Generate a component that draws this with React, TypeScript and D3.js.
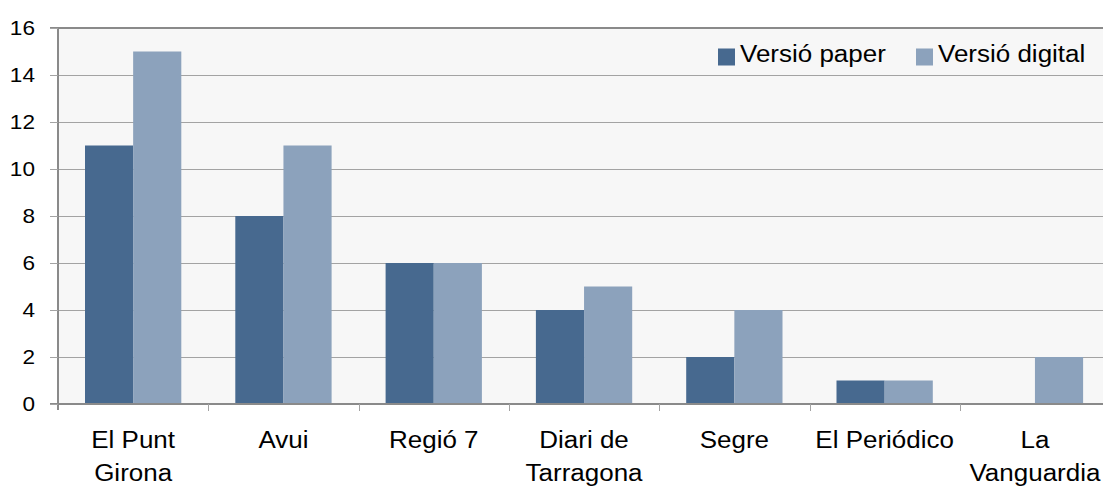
import { useEffect, useRef } from "react";
import * as d3 from "d3";

const categories = [
  ["El Punt", "Girona"],
  ["Avui"],
  ["Regió 7"],
  ["Diari de", "Tarragona"],
  ["Segre"],
  ["El Periódico"],
  ["La", "Vanguardia"],
];
const paperValues = [11, 8, 6, 4, 2, 1, 0];
const digitalValues = [15, 11, 6, 5, 4, 1, 2];
const seriesNames = ["Versió paper", "Versió digital"];
const yTicks = [0, 2, 4, 6, 8, 10, 12, 14, 16];

const W = 1103;
const H = 486;
const colors = ["#47698f", "#8ca2bc"];
const FONT = "Liberation Sans, Arial, sans-serif";
// the source picture is a little wider than tall, text too
const STRETCH = 1.13;

export default function App() {
  const svgRef = useRef<SVGSVGElement | null>(null);

  useEffect(() => {
    if (!svgRef.current) return;
    const svg = d3.select(svgRef.current);
    svg.selectAll("*").remove();

    const left = 58;
    const top = 28;
    const bottom = 404;
    const catW = 150.3;
    const right = left + catW * categories.length;

    const x = d3
      .scaleBand<number>()
      .domain(d3.range(categories.length))
      .range([left, right]);
    const y = d3.scaleLinear().domain([0, 16]).range([bottom, top]);
    const inner = d3.scaleBand<number>().domain([0, 1]).range([27, catW - 27]);

    const label = (g: any, tx: number, ty: number, txt: string, size: number, anchor: string) =>
      g
        .append("text")
        .attr("transform", `translate(${tx},${ty}) scale(${STRETCH},1)`)
        .attr("text-anchor", anchor)
        .attr("font-family", FONT)
        .attr("font-size", size)
        .attr("fill", "#000")
        .text(txt);

    svg.append("rect").attr("width", W).attr("height", H).attr("fill", "#ffffff");
    svg
      .append("rect")
      .attr("x", left)
      .attr("y", top)
      .attr("width", right - left)
      .attr("height", bottom - top)
      .attr("fill", "#f7f7f7");

    // gridlines
    svg
      .append("g")
      .selectAll("line")
      .data(yTicks.filter((t) => t > 0 && t < 16))
      .join("line")
      .attr("x1", left - 8)
      .attr("x2", right)
      .attr("y1", (d) => Math.round(y(d)) + 0.5)
      .attr("y2", (d) => Math.round(y(d)) + 0.5)
      .attr("stroke", "#a3a3a3")
      .attr("stroke-width", 1);

    svg
      .append("line")
      .attr("x1", left - 8)
      .attr("x2", right)
      .attr("y1", top)
      .attr("y2", top)
      .attr("stroke", "#8a8a8a")
      .attr("stroke-width", 2);

    // bars
    [paperValues, digitalValues].forEach((vals, si) => {
      svg
        .append("g")
        .selectAll("rect")
        .data(vals)
        .join("rect")
        .attr("x", (_d, i) => (x(i) ?? 0) + (inner(si) ?? 0))
        .attr("width", inner.bandwidth())
        .attr("y", (d) => y(d))
        .attr("height", (d) => bottom - y(d))
        .attr("fill", colors[si]);
    });

    svg
      .append("line")
      .attr("x1", left)
      .attr("x2", left)
      .attr("y1", top)
      .attr("y2", bottom + 6)
      .attr("stroke", "#8a8a8a")
      .attr("stroke-width", 2);
    svg
      .append("line")
      .attr("x1", left - 8)
      .attr("x2", right)
      .attr("y1", bottom)
      .attr("y2", bottom)
      .attr("stroke", "#8a8a8a")
      .attr("stroke-width", 2);

    // y axis ticks + labels
    const yg = svg.append("g");
    yg.selectAll("line")
      .data(yTicks)
      .join("line")
      .attr("x1", left - 8)
      .attr("x2", left)
      .attr("y1", (d) => Math.round(y(d)) + 0.5)
      .attr("y2", (d) => Math.round(y(d)) + 0.5)
      .attr("stroke", "#a3a3a3");
    yTicks.forEach((t) => label(yg, 35, y(t) + 7, String(t), 20, "end"));

    // category ticks
    svg
      .append("g")
      .selectAll("line")
      .data(d3.range(1, categories.length))
      .join("line")
      .attr("x1", (d) => Math.round(x(d) ?? 0) + 0.5)
      .attr("x2", (d) => Math.round(x(d) ?? 0) + 0.5)
      .attr("y1", bottom)
      .attr("y2", bottom + 7)
      .attr("stroke", "#a3a3a3");

    const xl = svg.append("g");
    categories.forEach((lines, i) => {
      const cx = (x(i) ?? 0) + x.bandwidth() / 2;
      lines.forEach((ln, li) => label(xl, cx, 448 + li * 33, ln, 23, "middle"));
    });

    // legend
    const legendX = [718, 916];
    seriesNames.forEach((name, i) => {
      svg
        .append("rect")
        .attr("x", legendX[i])
        .attr("y", 48.5)
        .attr("width", 17)
        .attr("height", 17)
        .attr("fill", colors[i]);
      label(svg, legendX[i] + 22, 62, name, 23, "start");
    });
  }, []);

  return (
    <div style={{ position: "fixed", left: 0, top: 0, width: W, height: H, overflow: "hidden" }}>
      <svg ref={svgRef} width={W} height={H} style={{ display: "block" }} />
    </div>
  );
}
